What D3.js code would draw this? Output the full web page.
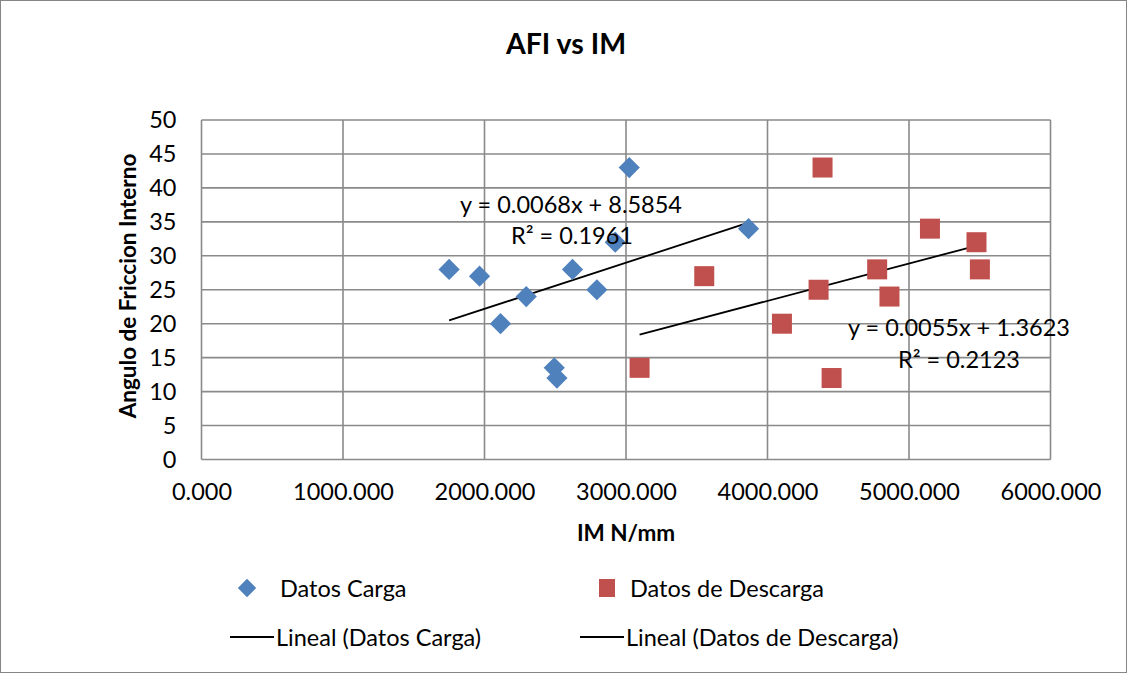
<!DOCTYPE html>
<html>
<head>
<meta charset="utf-8">
<script src="https://cdn.jsdelivr.net/npm/d3@7"></script>
<style>
  html, body { margin: 0; padding: 0; background: #fff; }
  svg { display: block; font-family: Lato, "Open Sans", sans-serif; }
</style>
</head>
<body>
<svg id="chart" width="1127" height="673"></svg>
<script>
// ---- Data ----
const cargaX = [1750, 1965, 2295, 2113, 2622, 2493, 2512, 2794, 2924, 3023, 3866];
const cargaY = [28, 27, 24, 20, 28, 13.5, 12, 25, 32, 43, 34];
const descargaX = [4389, 3553, 3096, 4102, 4361, 4453, 4775, 4862, 5148, 5477, 5501];
const descargaY = [43, 27, 13.5, 20, 25, 12, 28, 24, 34, 32, 28];
const trendSlope = [0.0068, 0.0055];
const trendIntercept = [8.5854, 1.3623];
const trendEq = ["y = 0.0068x + 8.5854", "y = 0.0055x + 1.3623"];
const trendR2 = ["R² = 0.1961", "R² = 0.2123"];
const xTicks = [0, 1000, 2000, 3000, 4000, 5000, 6000];
const yTicks = [0, 5, 10, 15, 20, 25, 30, 35, 40, 45, 50];
const seriesNames = ["Datos Carga", "Datos de Descarga"];
const trendNames = ["Lineal (Datos Carga)", "Lineal (Datos de Descarga)"];
const colors = ["#4F81BD", "#C0504D"];

const svg = d3.select("#chart");
const W = 1127, H = 673;
const plot = { left: 201.5, right: 1050.5, top: 120, bottom: 459.5 };
const FS = 23.5;

// outer border
svg.append("rect").attr("x", 0.5).attr("y", 0.5).attr("width", W - 1).attr("height", H - 1)
  .attr("fill", "#fff").attr("stroke", "#868686").attr("stroke-width", 1);

const x = d3.scaleLinear().domain([0, 6000]).range([plot.left, plot.right]);
const y = d3.scaleLinear().domain([0, 50]).range([plot.bottom, plot.top]);

const gridColor = "#8a8a8a";
// gridlines
const g = svg.append("g");
g.selectAll("line.h").data(yTicks).enter().append("line")
  .attr("x1", plot.left).attr("x2", plot.right)
  .attr("y1", d => y(d)).attr("y2", d => y(d))
  .attr("stroke", gridColor).attr("stroke-width", 1.6);
g.selectAll("line.v").data(xTicks).enter().append("line")
  .attr("y1", plot.top).attr("y2", plot.bottom)
  .attr("x1", d => x(d)).attr("x2", d => x(d))
  .attr("stroke", gridColor).attr("stroke-width", 1.6);

// axes (labels only)
const xAxis = d3.axisBottom(x).tickValues(xTicks).tickFormat(d3.format(".3f")).tickSize(0).tickPadding(24);
const gx = svg.append("g").attr("transform", `translate(0,${plot.bottom})`).call(xAxis);
gx.select(".domain").remove();
gx.selectAll("text").attr("font-size", FS).attr("fill", "#000").attr("font-family", "Lato");

const yAxis = d3.axisLeft(y).tickValues(yTicks).tickSize(0).tickPadding(25);
const gy = svg.append("g").attr("transform", `translate(${plot.left},0)`).call(yAxis);
gy.select(".domain").remove();
gy.selectAll("text").attr("font-size", FS).attr("fill", "#000").attr("font-family", "Lato");

// title
svg.append("text").attr("x", 566).attr("y", 54).attr("text-anchor", "middle")
  .attr("font-size", 28.5).attr("font-weight", "bold").text("AFI vs IM");
// axis titles
svg.append("text").attr("x", 626).attr("y", 541).attr("text-anchor", "middle")
  .attr("font-size", 22.5).attr("font-weight", "bold").text("IM N/mm");
svg.append("text").attr("transform", "translate(136,286) rotate(-90)").attr("text-anchor", "middle")
  .attr("font-size", 22.5).attr("font-weight", "bold").text("Angulo de Friccion Interno");

// trendlines
const series = [
  { xs: cargaX, ys: cargaY },
  { xs: descargaX, ys: descargaY }
];
series.forEach((s, i) => {
  const x0 = d3.min(s.xs), x1 = d3.max(s.xs);
  svg.append("line")
    .attr("x1", x(x0)).attr("y1", y(trendSlope[i] * x0 + trendIntercept[i]))
    .attr("x2", x(x1)).attr("y2", y(trendSlope[i] * x1 + trendIntercept[i]))
    .attr("stroke", "#000").attr("stroke-width", 1.8);
});

// points
svg.append("g").selectAll("rect").data(d3.zip(cargaX, cargaY)).enter().append("rect")
  .attr("x", -7.5).attr("y", -7.5).attr("width", 15).attr("height", 15)
  .attr("transform", d => `translate(${x(d[0])},${y(d[1])}) rotate(45)`)
  .attr("fill", colors[0]);
svg.append("g").selectAll("rect").data(d3.zip(descargaX, descargaY)).enter().append("rect")
  .attr("x", d => x(d[0]) - 10).attr("y", d => y(d[1]) - 10).attr("width", 20).attr("height", 20)
  .attr("fill", colors[1]);

// trend labels
const eqPos = [[460, 213, 511, 244], [848, 336, 898, 368]];
eqPos.forEach((p, i) => {
  svg.append("text").attr("x", p[0]).attr("y", p[1]).attr("font-size", FS).text(trendEq[i]);
  svg.append("text").attr("x", p[2]).attr("y", p[3]).attr("font-size", FS).text(trendR2[i]);
});

// legend
const legX = [247, 607];
const legTextX = [280, 630];
seriesNames.forEach((name, i) => {
  if (i === 0) {
    svg.append("rect").attr("x", -6.5).attr("y", -6.5).attr("width", 13).attr("height", 13)
      .attr("transform", `translate(${legX[i]},588) rotate(45)`).attr("fill", colors[0]);
  } else {
    svg.append("rect").attr("x", legX[i] - 8).attr("y", 579).attr("width", 16).attr("height", 18)
      .attr("fill", colors[1]);
  }
  svg.append("text").attr("x", legTextX[i]).attr("y", 597).attr("font-size", FS).text(name);
  svg.append("line").attr("x1", legTextX[i] - 50).attr("x2", legTextX[i] - 6)
    .attr("y1", 637).attr("y2", 637).attr("stroke", "#000").attr("stroke-width", 1.8);
  svg.append("text").attr("x", legTextX[i] - 4).attr("y", 646).attr("font-size", FS).text(trendNames[i]);
});
</script>
</body>
</html>
